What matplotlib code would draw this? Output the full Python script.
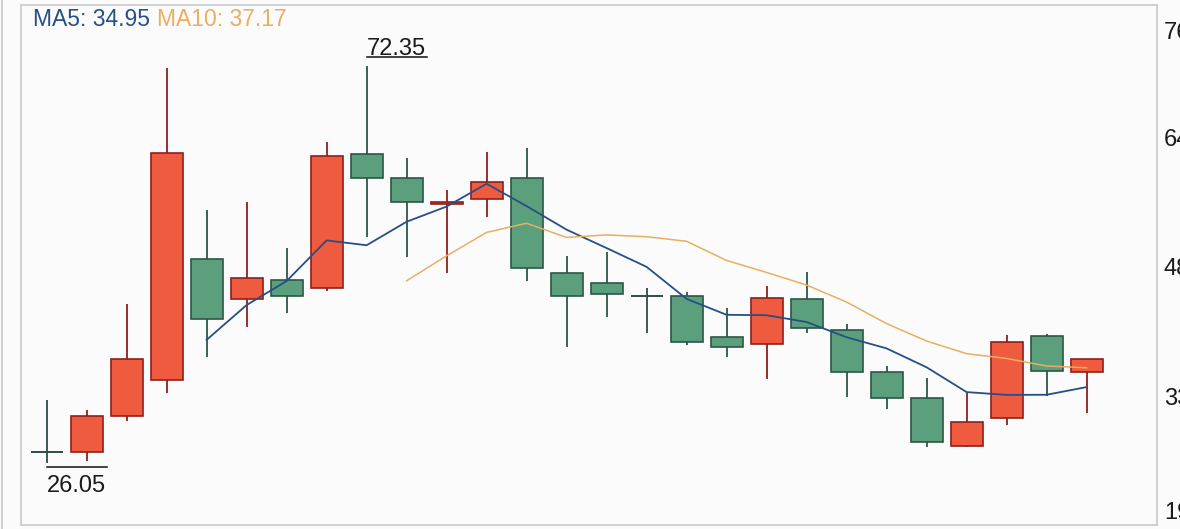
import numpy as np
import pandas as pd
import matplotlib
matplotlib.use("Agg")
import matplotlib.pyplot as plt
from matplotlib import transforms
from matplotlib.lines import Line2D

plt.rcParams['font.family'] = ['Liberation Sans', 'DejaVu Sans']

# daily candles
opens = [27.37, 27.37, 31.57, 35.74, 49.84, 45.17, 47.42, 46.52, 62.17, 59.37,
         56.29, 56.84, 59.37, 48.20, 47.03, 45.59, 45.59, 40.73, 39.95, 45.17,
         41.58, 36.71, 33.68, 28.07, 31.34, 40.92, 36.71]
highs = [33.41, 32.24, 44.62, 72.14, 55.59, 56.56, 51.12, 63.57, 72.35, 61.70,
         57.93, 62.40, 62.80, 50.22, 50.72, 46.45, 46.05, 44.11, 46.72, 48.39,
         42.28, 37.38, 35.94, 34.19, 41.00, 41.11, 38.16]
lows = [26.05, 26.32, 30.99, 34.26, 38.46, 41.97, 43.53, 46.17, 52.48, 50.07,
        48.27, 54.81, 47.34, 39.63, 43.13, 41.27, 39.83, 38.46, 35.86, 41.20,
        33.79, 32.32, 27.95, 27.95, 30.49, 33.91, 31.85]
closes = [27.37, 31.57, 38.16, 62.21, 42.83, 47.69, 45.59, 61.90, 59.37, 56.56,
          56.56, 58.90, 48.86, 45.59, 45.82, 45.59, 40.21, 39.56, 45.35, 41.85,
          36.71, 33.68, 28.54, 30.87, 40.21, 36.79, 38.16]

# right axis labels are cut by the window edge in the original
ytick_vals = [76.61, 64.00, 48.94, 33.76, 20.56]
ytick_labels = ["76.61", "64.00", "48.94", "33.76", "19.27"]
ma5_text = "MA5: 34.95"
ma10_text = "MA10: 37.17"

RED_FILL, RED_EDGE = '#ef5b3f', '#8e1f1c'
GRN_FILL, GRN_EDGE = '#5c9f7c', '#2b5646'
DOJI = '#2d4c48'
MA5_C, MA10_C = '#264f86', '#e9ae60'
BORDER = '#c7cacd'

fig = plt.figure(figsize=(11.8, 5.29), dpi=100, facecolor='#fbfbfc')
ax = fig.add_axes([21/1180, 4/529, 1136/1180, 520/529])
ax.set_facecolor('#fbfbfc')

x = np.arange(len(closes))
o = np.array(opens); h = np.array(highs); l = np.array(lows); c = np.array(closes)
up = c > o
dn = c < o
flat = c == o
w = 0.8

ax.vlines(x[up], l[up], h[up], color=RED_EDGE, lw=1.3, zorder=1)
ax.bar(x[up], c[up] - o[up], bottom=o[up], width=w, color=RED_FILL,
       edgecolor=RED_EDGE, linewidth=1.2, zorder=2)
ax.vlines(x[dn], l[dn], h[dn], color=GRN_EDGE, lw=1.3, zorder=1)
ax.bar(x[dn], o[dn] - c[dn], bottom=c[dn], width=w, color=GRN_FILL,
       edgecolor=GRN_EDGE, linewidth=1.2, zorder=2)
ax.vlines(x[flat], l[flat], h[flat], color=DOJI, lw=1.3, zorder=1)
ax.hlines(c[flat], x[flat] - w/2, x[flat] + w/2, color=DOJI, lw=1.4, zorder=2)

s = pd.Series(closes)
ax.plot(x, s.rolling(5).mean(), color=MA5_C, lw=1.3, zorder=3)
ax.plot(x, s.rolling(10).mean(), color=MA10_C, lw=1.1, zorder=3)

# max / min marks
ihi = int(np.argmax(h))
ilo = int(np.argmin(l))
off = lambda dy: transforms.offset_copy(ax.transData, fig=fig, x=0, y=dy, units='dots')
ax.plot([ihi, ihi + 1.5], [h[ihi], h[ihi]], color='#111111', lw=1.1, transform=off(9))
ax.text(ihi, h[ihi], f"{h[ihi]:.2f}", transform=off(11.5), ha='left', va='baseline',
        fontsize=17, color='#1a1a1a')
ax.plot([ilo, ilo + 1.5], [l[ilo], l[ilo]], color='#111111', lw=1.1, transform=off(-4.5))
ax.text(ilo, l[ilo], f"{l[ilo]:.2f}", transform=off(-29), ha='left', va='baseline',
        fontsize=17, color='#1a1a1a')

t1 = ax.text(12/1136, 0.972, ma5_text, transform=ax.transAxes, ha='left', va='center',
             fontsize=16.5, color=MA5_C)
ax.annotate(ma10_text, xy=(1, 0.5), xycoords=t1, xytext=(7, 0), textcoords='offset pixels',
            ha='left', va='center', fontsize=16.5, color=MA10_C)

ax.set_xlim(-0.64, 27.76)
ax.set_ylim(18.81, 79.53)
ax.set_xticks([])
ax.yaxis.tick_right()
ax.set_yticks(ytick_vals, ytick_labels)
ax.tick_params(axis='y', length=0, pad=5, labelsize=17, colors='#1a1a1a')
for sp in ax.spines.values():
    sp.set_color(BORDER)
    sp.set_linewidth(1.2)

fig.add_artist(Line2D([1.5/1180, 1.5/1180], [0, 1], transform=fig.transFigure,
                      color=BORDER, lw=1.2))

fig.savefig("out.png", dpi=100, facecolor=fig.get_facecolor())
